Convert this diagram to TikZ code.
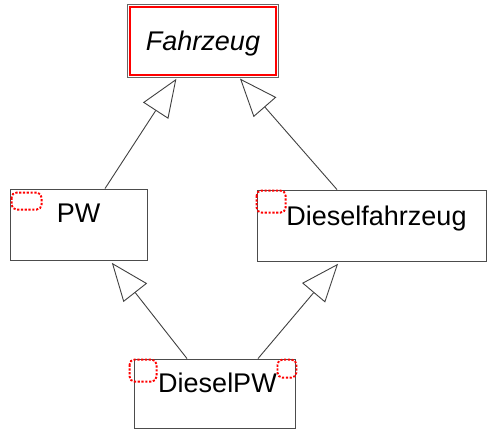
\documentclass[tikz,border=0pt]{standalone}
\usepackage{fontspec}
\setmainfont{Liberation Sans}
\usetikzlibrary{arrows.meta}

\begin{document}
\begin{tikzpicture}[x=1pt, y=1pt, cls/.style = {draw=black!70, line width=0.9pt, inner sep=0pt, font=\fontsize{27}{30}\selectfont}, icon/.style = {draw=red, line width=1.9pt, dash pattern=on 2.2pt off 1.6pt, rounded corners=5pt}, inh/.style = {draw=black!75, line width=0.9pt, -{Triangle[open, length=38pt, width=30pt]}, shorten >=3pt}]
\useasboundingbox (0,0) rectangle (487,-432);
\node[cls, draw=red, line width=2.6pt, minimum width=146pt, text height=43pt, text depth=25pt] (fz) at (203,-41) {\itshape Fahrzeug};
\draw[black!60, line width=0.7pt] ([shift={(-1.4,1.4)}]fz.north west) rectangle ([shift={(1.4,-1.4)}]fz.south east);
\node[cls, minimum width=137pt, text height=33pt, text depth=38pt] (pw) at (78.5,-224.5) {PW};
\node[cls, minimum width=229pt, text height=35pt, text depth=36pt] (df) at (371.5,-225.5) {\hspace{10pt}Dieselfahrzeug};
\node[cls, minimum width=161pt, text height=33pt, text depth=36pt] (dpw) at (214.5,-393.5) {\hspace{6pt}DieselPW};
\draw[icon] ([shift={(2,-4)}]pw.north west) rectangle ++(30,-17);
\draw[icon] ([shift={(0,-1)}]df.north west) rectangle ++(29,-22);
\draw[icon] ([shift={(-4,-1)}]dpw.north west) rectangle ++(27,-22);
\draw[icon] ([shift={(-18,-1)}]dpw.north east) rectangle ++(19,-18);
\draw[inh] ([xshift=26.5pt]pw.north) -- ([xshift=-25pt]fz.south);
\draw[inh] ([xshift=-34.5pt]df.north) -- ([xshift=35pt]fz.south);
\draw[inh] ([xshift=-27.5pt]dpw.north) -- ([xshift=31.5pt]pw.south);
\draw[inh] ([xshift=43.5pt]dpw.north) -- ([xshift=-31.5pt]df.south);
\end{tikzpicture}
\end{document}
